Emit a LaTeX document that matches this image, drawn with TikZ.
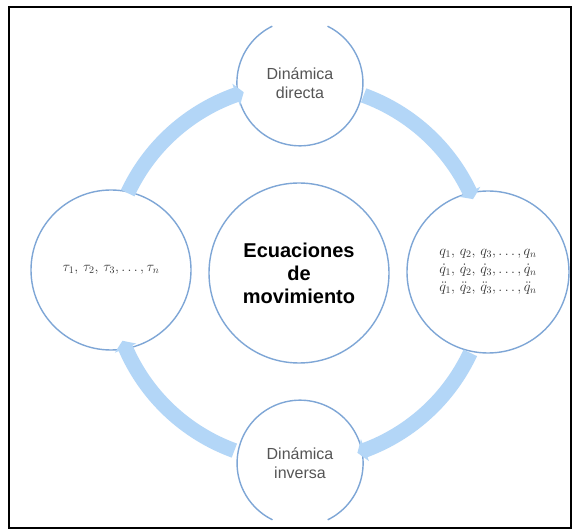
\documentclass[tikz,border=0pt]{standalone}
\usepackage{fontspec}
\setmainfont{Liberation Sans}
\usetikzlibrary{arrows.meta,bending,calc}
\definecolor{ringblue}{HTML}{B3D6F7}
\definecolor{circblue}{HTML}{7EA6D6}
\definecolor{labgray}{HTML}{555555}
\tikzset{
  bubble/.style={circle,fill=white,draw=circblue,line width=1.4pt,inner sep=0pt,align=center},
  openbubble/.style={circle,fill=white,draw=none,inner sep=0pt,align=center},
  flow/.style={draw=ringblue,line width=15pt,-{Triangle[width=23pt,length=8pt,bend]}},
  lab/.style={text=labgray,font=\fontsize{16}{19}\selectfont},
  mathlab/.style={text=black!80,font=\fontsize{14.5}{18}\selectfont},
}
\begin{document}
\begin{tikzpicture}[x=1pt,y=1pt]
\useasboundingbox (0,0) rectangle (576,531);
\fill[white] (0,0) rectangle (576,531);
\draw[black,line width=2.5pt] (9,3) rectangle (571,524);
\coordinate (C) at (299,258);
% circles
\node[bubble,minimum size=180pt,font=\fontsize{20}{23}\selectfont\bfseries] (mid) at (299,258)
  {Ecuaciones\\de\\movimiento};
\node[bubble,minimum size=160pt,mathlab] (left) at (111,261)
  {$\tau_1,\,\tau_2,\,\tau_3,\ldots,\tau_n$};
\node[bubble,minimum size=162pt,mathlab] (right) at (488,259)
  {$q_1,\,q_2,\,q_3,\ldots,q_n$\\
   $\dot q_1,\,\dot q_2,\,\dot q_3,\ldots,\dot q_n$\\
   $\ddot q_1,\,\ddot q_2,\,\ddot q_3,\ldots,\ddot q_n$};
\node[openbubble,minimum size=126pt,lab] (top) at (300,448) {Dinámica\\directa};
\node[openbubble,minimum size=126pt,lab] (bot) at (300,68) {Dinámica\\inversa};
\draw[circblue,line width=1.4pt] (top.116) arc[start angle=116,end angle=424,radius=63pt];
\draw[circblue,line width=1.4pt] (bot.296) arc[start angle=296,end angle=604,radius=63pt];
% flow arrows along ring of radius 189 around C
\path[flow] ($(C)+(155:189pt)$) arc[start angle=155,end angle=107,radius=189pt];
\path[flow] ($(C)+(70:189pt)$) arc[start angle=70,end angle=23,radius=189pt];
\path[flow] ($(C)+(-25:189pt)$) arc[start angle=-25,end angle=-72,radius=189pt];
\path[flow] ($(C)+(250:189pt)$) arc[start angle=250,end angle=201,radius=189pt];
\end{tikzpicture}
\end{document}
